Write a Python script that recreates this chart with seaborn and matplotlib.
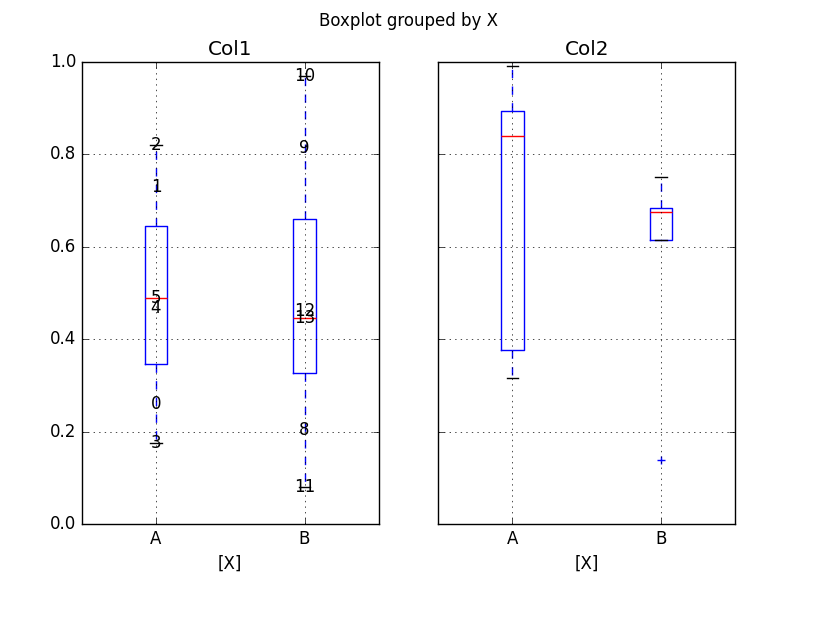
import matplotlib
matplotlib.use("Agg")
import matplotlib.pyplot as plt
import seaborn as sns
import pandas as pd
import numpy as np

# ---- data ----
groups = ["A", "B"]
col1_A = [0.261, 0.729, 0.819, 0.177, 0.468, 0.490, 0.347, 0.580, 0.646]
col1_B = [0.205, 0.814, 0.970, 0.082, 0.462, 0.446, 0.328, 0.390, 0.660]
col2_A = [0.317, 0.350, 0.377, 0.600, 0.840, 0.860, 0.893, 0.950, 0.991]
col2_B = [0.140, 0.614, 0.615, 0.650, 0.676, 0.680, 0.684, 0.720, 0.751]
# point labels (row index) shown in Col1 panel
labels_A = ["0", "1", "2", "3", "4", "5"]
labels_B = ["8", "9", "10", "11", "12", "13"]

df = pd.DataFrame({
    "X": ["A"] * len(col1_A) + ["B"] * len(col1_B),
    "Col1": col1_A + col1_B,
    "Col2": col2_A + col2_B,
})

plt.style.use("classic")
plt.rcParams["font.family"] = ["DejaVu Sans"]

fig, axes = plt.subplots(1, 2, figsize=(8.17, 6.17), sharey=True)
fig.subplots_adjust(left=0.1, right=0.9, top=0.9, bottom=0.15, wspace=0.2)

for ax, col in zip(axes, ["Col1", "Col2"]):
    sns.boxplot(
        data=df, x="X", y=col, order=groups, ax=ax,
        width=0.15, fill=False, color="blue", linewidth=1, whis=1.5,
        boxprops=dict(color="blue", linewidth=1),
        medianprops=dict(color="red", linewidth=1),
        whiskerprops=dict(color="blue", linestyle="--", linewidth=1),
        capprops=dict(color="black", linewidth=1),
        flierprops=dict(marker="+", markeredgecolor="blue", markerfacecolor="none",
                        markersize=6, linestyle="none"),
        capwidths=0.075,
    )
    ax.set_title(col)
    ax.set_xlabel("[X]")
    ax.set_ylabel("")
    ax.set_ylim(0, 1)
    ax.set_xlim(-0.5, 1.5)
    ax.grid(True, linestyle=":", color="k", linewidth=0.5)
    ax.set_axisbelow(False)
    ax.tick_params(direction="in", top=True, right=True)

# annotate Col1 points with their labels
for gi, (vals, labs) in enumerate([(col1_A, labels_A), (col1_B, labels_B)]):
    for v, lab in zip(vals, labs):
        axes[0].text(gi, v, lab, ha="center", va="center", fontsize=12, color="black")

axes[0].set_yticks(np.arange(0, 1.01, 0.2))
plt.setp(axes[1].get_yticklabels(), visible=False)

fig.suptitle("Boxplot grouped by X", fontsize=12)
fig.savefig("out.png", dpi=100)
